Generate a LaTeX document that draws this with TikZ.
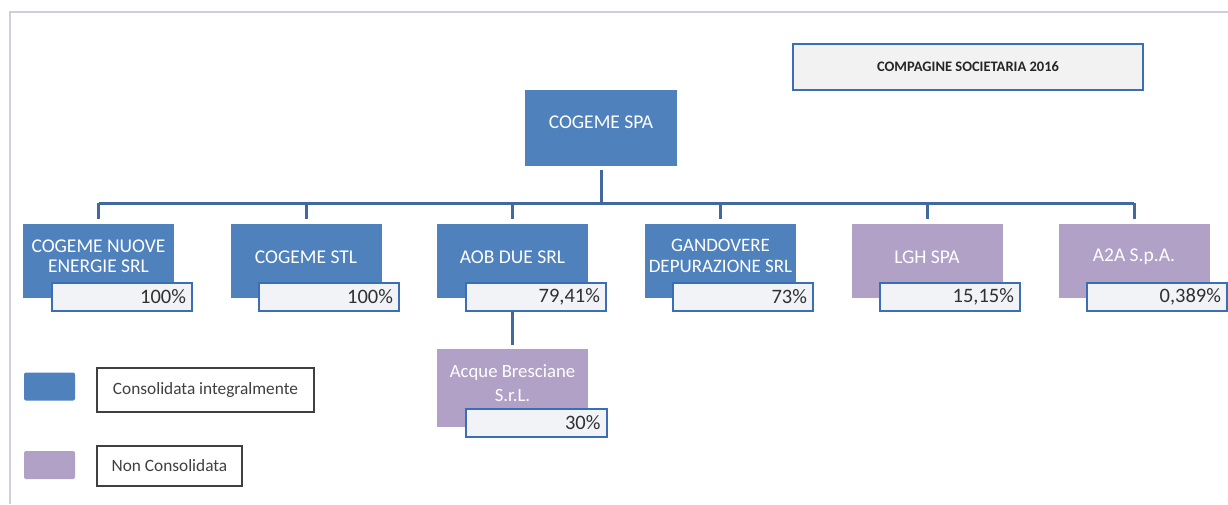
\documentclass[tikz,border=0pt]{standalone}
\usepackage{fontspec}
\setmainfont{Carlito}
\definecolor{cblue}{HTML}{4F81BD}
\definecolor{cpurple}{HTML}{B2A1C7}
\definecolor{cline}{HTML}{41699F}
\definecolor{pborder}{HTML}{3A6FB5}
\definecolor{pfill}{HTML}{F1F3F7}
\definecolor{ptext}{HTML}{303030}
\definecolor{framecol}{HTML}{CDD0DC}
\definecolor{legtext}{HTML}{404040}
\begin{document}
\begin{tikzpicture}[x=1pt,y=-1pt,
  consbox/.style={rectangle, fill=cblue, minimum width=151pt, minimum height=74pt, inner sep=0pt},
  nonbox/.style={rectangle, fill=cpurple, minimum width=151pt, minimum height=74pt, inner sep=0pt},
  lbl/.style={text=white, font=\fontsize{19.5}{20.5}\selectfont, align=center, inner sep=0pt},
  pct/.style={rectangle, draw=pborder, line width=2.8pt, fill=pfill, minimum width=140pt, minimum height=28pt,
    inner sep=0pt, text=ptext, font=\fontsize{20.5}{21}\selectfont, align=right, text width=128pt},
  conn/.style={draw=cline, line width=3pt},
  legbox/.style={rectangle, draw=legtext, line width=1.5pt, fill=white, inner sep=0pt, text=legtext,
    font=\fontsize{17.3}{19}\selectfont},
  swatch/.style={rectangle, rounded corners=2pt, inner sep=0pt, minimum width=51pt, minimum height=28pt}
]
\useasboundingbox (0,0) rectangle (1228,504);
\fill[white] (0,0) rectangle (1228,504);
% frame
\draw[framecol, line width=1.5pt] (10,504) -- (10,12) -- (1228,12);

% title
\node[rectangle, draw=pborder, line width=2.5pt, fill=black!5, minimum width=350pt, minimum height=46pt,
  inner sep=0pt, text=black!85, font=\bfseries\fontsize{14.5}{16}\selectfont] (title) at (968,67) {COMPAGINE SOCIETARIA 2016};

% top company
\node[rectangle, fill=cblue, minimum width=152pt, minimum height=76pt, inner sep=0pt] (top) at (601,128) {};
\node[lbl] (ttop) at (601,122) {COGEME SPA};

% subsidiaries
\node[consbox] (b1) at (98.5,261) {};
\node[lbl] (t1) at (98.5,256) {COGEME NUOVE\\ENERGIE SRL};
\node[pct] (p1) at (122,297) {100\%};

\node[consbox] (b2) at (306,261) {};
\node[lbl] (t2) at (306,257) {COGEME STL};
\node[pct] (p2) at (329,297) {100\%};

\node[consbox] (b3) at (512.5,261) {};
\node[lbl] (t3) at (512.5,257) {AOB DUE SRL};
\node[pct] (p3) at (536,297) {79,41\%};

\node[consbox] (b4) at (720.5,261) {};
\node[lbl, font=\fontsize{19}{20.5}\selectfont] (t4) at (720.5,256) {GANDOVERE\\DEPURAZIONE SRL};
\node[pct] (p4) at (743,297) {73\%};

\node[nonbox] (b5) at (927,261) {};
\node[lbl] (t5) at (927,257) {LGH SPA};
\node[pct] (p5) at (950,297) {15,15\%};

\node[nonbox] (b6) at (1134,261) {};
\node[lbl] (t6) at (1134,257) {A2A S.p.A.};
\node[pct] (p6) at (1157,297) {0,389\%};

\node[nonbox, minimum height=78pt] (b7) at (512.5,388) {};
\node[lbl, font=\fontsize{18.7}{24}\selectfont] (t7) at (512.5,383) {Acque Bresciane\\S.r.L.};
\node[pct, minimum width=141pt] (p7) at (536.5,423) {30\%};

% connectors
\coordinate (bus) at (601,203);
\draw[conn, shorten <=4pt] (top.south) -- (bus);
\draw[conn] (b1.north |- bus) -- (b6.north |- bus);
\foreach \b in {b1,b2,b3,b4,b5,b6}
  \draw[conn, shorten >=5pt] (\b.north |- bus) -- (\b.north);
\draw[conn, shorten >=4pt] (p3.south -| b3.center) -- (b7.north);

% legend
\node[swatch, fill=cblue] (s1) at (49.5,386.5) {};
\node[legbox, minimum width=217pt, minimum height=44pt] (l1) at (205.5,390) {Consolidata integralmente};
\node[swatch, fill=cpurple] (s2) at (49.5,465) {};
\node[legbox, minimum width=145pt, minimum height=40pt] (l2) at (169.5,466) {Non Consolidata};
\end{tikzpicture}
\end{document}
